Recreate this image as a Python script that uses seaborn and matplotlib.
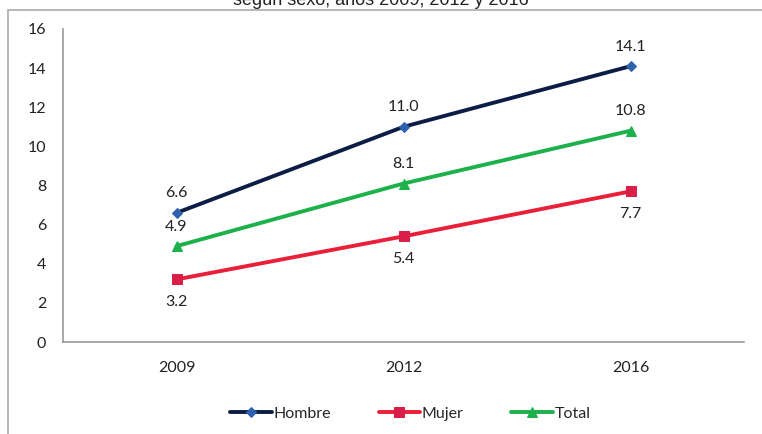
import matplotlib.pyplot as plt
import matplotlib.patches as mpatches
import numpy as np
import pandas as pd
import seaborn as sns

years = ['2009', '2012', '2016']
hombre = [6.6, 11.0, 14.1]
mujer = [3.2, 5.4, 7.7]
total = [4.9, 8.1, 10.8]

series = [
    # name, values, line colour, marker, marker colour, label offset
    ('Hombre', hombre, '#0c1d45', 'D', '#2f62ad', 14),
    ('Mujer', mujer, '#ea1f3a', 's', '#d91f48', -16),
    ('Total', total, '#1db14b', '^', '#1db14b', 14),
]

sns.set_style('white')
plt.rcParams['font.family'] = ['Lato', 'DejaVu Sans']
fs = 11.5

fig = plt.figure(figsize=(7.62, 4.34), dpi=100, facecolor='white')
ax = fig.add_axes([63 / 762, 1 - 342 / 434, (744 - 63) / 762, (342 - 29) / 434])

x = np.arange(len(years))
for name, vals, lc, mk, mc, off in series:
    df = pd.DataFrame({'x': x, 'y': vals})
    sns.lineplot(data=df, x='x', y='y', ax=ax, color=lc, lw=2.8,
                 marker=mk, markersize=7 if mk != 'D' else 5.5,
                 markerfacecolor=mc, markeredgecolor=mc, label=name)
    for xi, v in zip(x, vals):
        ax.annotate(f'{v:.1f}', (xi, v), xytext=(0, off), textcoords='offset points',
                    ha='center', va='center', fontsize=fs, color='#222222')

ax.set_xlim(-0.5, 2.5)
ax.set_ylim(0, 16)
ax.set_yticks(range(0, 17, 2))
ax.set_xticks(x)
ax.set_xticklabels(years)
ax.set_xticks([-0.5, 0.5, 1.5, 2.5], minor=True)
ax.tick_params(axis='x', which='major', length=0, pad=14, labelsize=fs, labelcolor='#222222')
ax.tick_params(axis='x', which='minor', length=4, color='#999999', direction='out')
ax.tick_params(axis='y', length=4, color='#999999', direction='out', labelsize=fs,
               labelcolor='#222222', pad=8)
ax.set_xlabel('')
ax.set_ylabel('')
for s in ['top', 'right']:
    ax.spines[s].set_visible(False)
for s in ['left', 'bottom']:
    ax.spines[s].set_color('#999999')
    ax.spines[s].set_linewidth(1.2)

ax.legend(loc='upper center', bbox_to_anchor=(0.51, -0.16), ncol=3, frameon=False,
          fontsize=fs, handlelength=2.6, handletextpad=0.1, columnspacing=3.0)

# outer chart border
fig.patches.append(mpatches.Rectangle((8 / 762, -0.05), 1.0, 1 - 10 / 434 + 0.05,
                                      transform=fig.transFigure, fill=False,
                                      edgecolor='#aaaaaa', lw=1.2))

# title, partly cut off at the top of the image as in the source
fig.text(0.5, 0.998, 'según sexo, años 2009, 2012 y 2016', ha='center', va='center',
         fontsize=13, family=['Liberation Sans', 'DejaVu Sans'], color='#222222')

fig.savefig('out.png', dpi=100)
